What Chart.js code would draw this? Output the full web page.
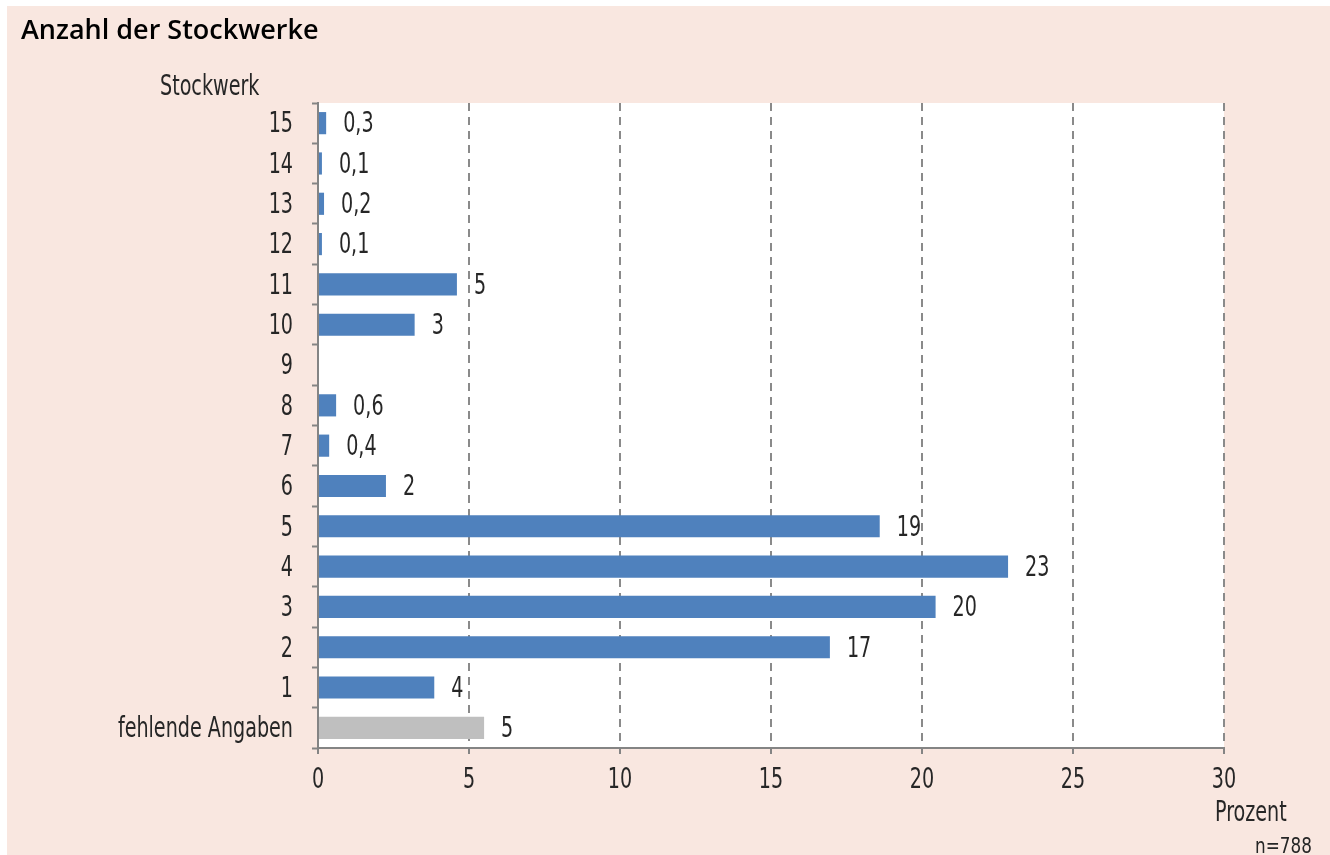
<!DOCTYPE html>
<html>
<head>
<meta charset="utf-8">
<script src="https://cdn.jsdelivr.net/npm/chart.js@4"></script>
<style>
  body { margin: 0; background: #fff; width: 1330px; height: 855px; overflow: hidden; position: relative; }
  #panel { position: absolute; left: 7px; top: 6px; width: 1323px; height: 849px; background: #f9e7e0; }
  #chart { position: absolute; left: 0; top: 0; }
  .txt { position: absolute; white-space: nowrap; color: #262626; font-family: "DejaVu Sans Condensed", sans-serif; font-size: 28px; line-height: 28px; transform: scaleX(0.76); transform-origin: left center; }
  #title { left: 21px; top: 13px; font-family: "Open Sans", "Noto Sans", sans-serif; font-size: 27px; font-weight: 600; color: #000; line-height: 32px; transform: none; }
</style>
</head>
<body>
<div id="panel"></div>
<canvas id="chart" width="1330" height="855"></canvas>
<div class="txt" id="title">Anzahl der Stockwerke</div>
<div class="txt" style="left:160px; top:72px;">Stockwerk</div>
<div class="txt" style="left:1215px; top:798px;">Prozent</div>
<div class="txt" style="left:1255px; top:835px; font-size:22px; line-height:22px; transform: scaleX(0.85);">n=788</div>
<script>
const categories = ['15', '14', '13', '12', '11', '10', '9', '8', '7', '6', '5', '4', '3', '2', '1', 'fehlende Angaben'];
const values = [0.27, 0.13, 0.2, 0.13, 4.6, 3.2, 0, 0.6, 0.37, 2.25, 18.6, 22.85, 20.45, 16.95, 3.85, 5.5];
const valueLabels = ['0,3', '0,1', '0,2', '0,1', '5', '3', '', '0,6', '0,4', '2', '19', '23', '20', '17', '4', '5'];
const xTicks = [0, 5, 10, 15, 20, 25, 30];

const labelFont = '28px "DejaVu Sans Condensed", sans-serif';
const squeeze = 0.76;
const axisGray = '#848484';
const textColor = '#262626';

// narrow text, like the condensed font of the original
function drawNarrow(ctx, text, x, y, align) {
  ctx.save();
  ctx.translate(x, y);
  ctx.scale(squeeze, 1);
  ctx.font = labelFont;
  ctx.fillStyle = textColor;
  ctx.textAlign = align;
  ctx.textBaseline = 'middle';
  ctx.fillText(text, 0, 0);
  ctx.restore();
}

// white plot area
const plotBackground = {
  id: 'plotBackground',
  beforeDraw(chart) {
    const { ctx, chartArea } = chart;
    ctx.save();
    ctx.fillStyle = '#ffffff';
    ctx.fillRect(chartArea.left, chartArea.top, chartArea.right - chartArea.left, chartArea.bottom - chartArea.top);
    ctx.restore();
  }
};

// tick labels of both axes and values at the bar ends
const narrowLabels = {
  id: 'narrowLabels',
  afterDraw(chart) {
    const { ctx } = chart;
    const y = chart.scales.y;
    const x = chart.scales.x;
    y.ticks.forEach((t, i) => {
      drawNarrow(ctx, categories[i], y.right - 25, y.getPixelForTick(i) + 2, 'right');
    });
    x.ticks.forEach((t, i) => {
      drawNarrow(ctx, String(t.value), x.getPixelForTick(i), x.top + 33, 'center');
    });
    const meta = chart.getDatasetMeta(0);
    meta.data.forEach((bar, i) => {
      if (!valueLabels[i]) return;
      drawNarrow(ctx, valueLabels[i], bar.x + 17, bar.y + 2, 'left');
    });
  }
};

const ctx = document.getElementById('chart').getContext('2d');
const chart = new Chart(ctx, {
  type: 'bar',
  data: {
    labels: categories,
    datasets: [{
      data: values,
      backgroundColor: (c) => c.dataIndex === categories.length - 1 ? '#bfbfbf' : '#4f81bd',
      barPercentage: 0.55,
      categoryPercentage: 1
    }]
  },
  options: {
    indexAxis: 'y',
    responsive: false,
    animation: false,
    layout: { padding: { top: 103, right: 106, bottom: 0, left: 0 } },
    plugins: {
      legend: { display: false },
      tooltip: { enabled: false }
    },
    scales: {
      y: {
        afterFit: (s) => { s.width = 318; },
        grid: {
          offset: true,
          drawOnChartArea: false,
          drawTicks: true,
          tickLength: 6,
          tickColor: axisGray,
          tickWidth: 2
        },
        border: { color: axisGray, width: 2 },
        ticks: { color: 'rgba(0,0,0,0)' }
      },
      x: {
        min: 0,
        max: 30,
        afterFit: (s) => { s.height = 107; },
        afterBuildTicks: (s) => { s.ticks = xTicks.map(v => ({ value: v })); },
        grid: {
          color: (c) => c.tick && c.tick.value === 0 ? 'rgba(0,0,0,0)' : '#8a8a8a',
          lineWidth: 2,
          drawTicks: true,
          tickLength: 6,
          tickColor: axisGray,
          tickWidth: 2,
          tickBorderDash: []
        },
        border: { color: axisGray, width: 2, dash: [8, 6] },
        ticks: { color: 'rgba(0,0,0,0)' }
      }
    }
  },
  plugins: [plotBackground, narrowLabels]
});
</script>
</body>
</html>
